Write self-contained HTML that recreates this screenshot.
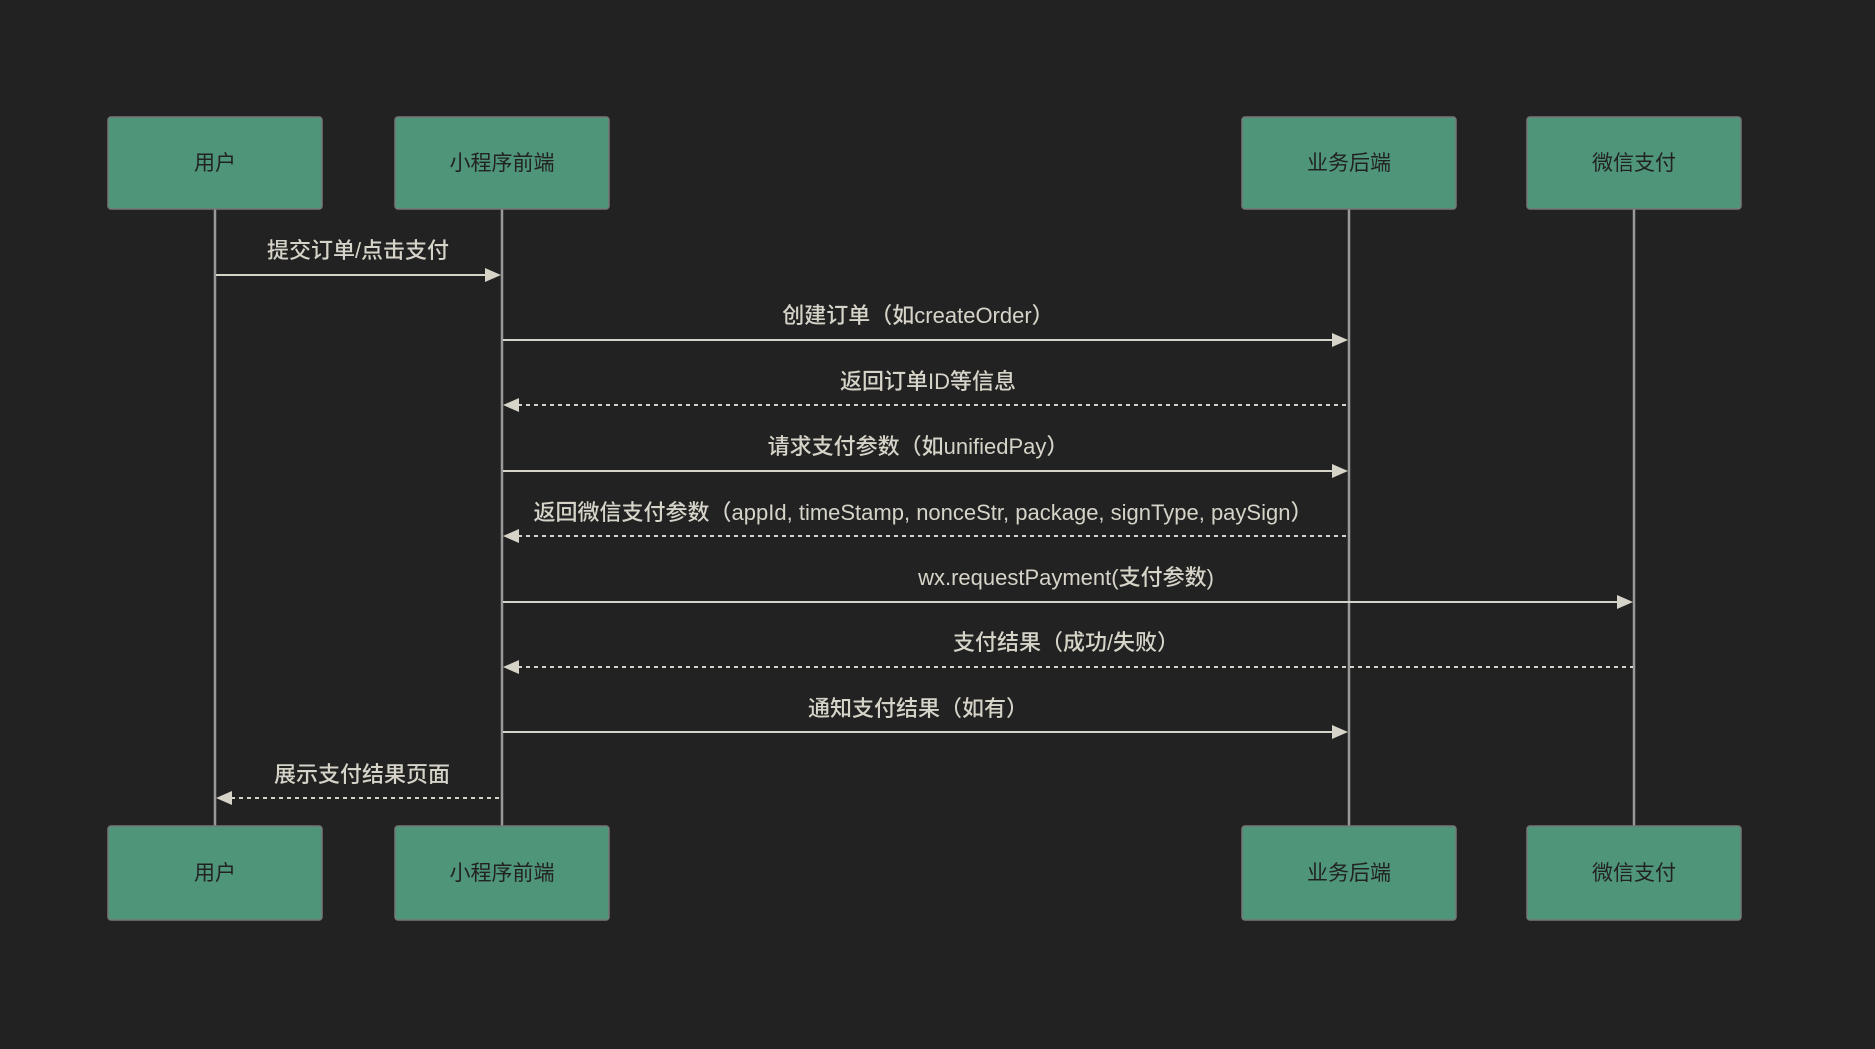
<!DOCTYPE html>
<html><head><meta charset="utf-8"><style>
html,body{margin:0;padding:0;background:#222222;}
svg{display:block;}
text{font-family:"Liberation Sans","Noto Sans CJK SC",sans-serif;}
</style></head><body>
<svg width="1875" height="1049" viewBox="0 0 1875 1049" xmlns="http://www.w3.org/2000/svg">
<rect width="1875" height="1049" fill="#222222"/>
<g stroke="#999" stroke-width="2.5">
<line x1="215" y1="209" x2="215" y2="826"/>
<line x1="502" y1="209" x2="502" y2="826"/>
<line x1="1349" y1="209" x2="1349" y2="826"/>
<line x1="1634" y1="209" x2="1634" y2="826"/>
</g>
<g fill="#4e957a" stroke="#777" stroke-width="1.5">
<rect x="108" y="117" width="214" height="92" rx="3"/>
<rect x="395" y="117" width="214" height="92" rx="3"/>
<rect x="1242" y="117" width="214" height="92" rx="3"/>
<rect x="1527" y="117" width="214" height="92" rx="3"/>
<rect x="108" y="826" width="214" height="94" rx="3"/>
<rect x="395" y="826" width="214" height="94" rx="3"/>
<rect x="1242" y="826" width="214" height="94" rx="3"/>
<rect x="1527" y="826" width="214" height="94" rx="3"/>
</g>
<g fill="#222" font-size="21" text-anchor="middle">
<text x="215" y="170">用户</text>
<text x="502" y="170">小程序前端</text>
<text x="1349" y="170">业务后端</text>
<text x="1634" y="170">微信支付</text>
<text x="215" y="880">用户</text>
<text x="502" y="880">小程序前端</text>
<text x="1349" y="880">业务后端</text>
<text x="1634" y="880">微信支付</text>
</g>
<g stroke="#d6d3c8" stroke-width="2" fill="none">
<line x1="216" y1="275" x2="486" y2="275"/>
<line x1="503" y1="340" x2="1333" y2="340"/>
<line x1="518" y1="405" x2="1348" y2="405" stroke-dasharray="4,4"/>
<line x1="503" y1="471" x2="1333" y2="471"/>
<line x1="518" y1="536" x2="1348" y2="536" stroke-dasharray="4,4"/>
<line x1="503" y1="602" x2="1618" y2="602"/>
<line x1="518" y1="667" x2="1633" y2="667" stroke-dasharray="4,4"/>
<line x1="503" y1="732" x2="1333" y2="732"/>
<line x1="231" y1="798" x2="501" y2="798" stroke-dasharray="4,4"/>
</g>
<g fill="#d6d3c8">
<polygon points="501,275 485,268 485,282"/>
<polygon points="1348,340 1332,333 1332,347"/>
<polygon points="503,405 519,398 519,412"/>
<polygon points="1348,471 1332,464 1332,478"/>
<polygon points="503,536 519,529 519,543"/>
<polygon points="1633,602 1617,595 1617,609"/>
<polygon points="503,667 519,660 519,674"/>
<polygon points="1348,732 1332,725 1332,739"/>
<polygon points="216,798 232,791 232,805"/>
</g>
<g fill="#d6d3c8" font-size="22" font-weight="500" text-anchor="middle">
<text x="358" y="258">提交订单/点击支付</text>
<text x="918" y="323">创建订单（如createOrder）</text>
<text x="928" y="389">返回订单ID等信息</text>
<text x="918" y="454">请求支付参数（如unifiedPay）</text>
<text x="923" y="520">返回微信支付参数（appId, timeStamp, nonceStr, package, signType, paySign）</text>
<text x="1066" y="585">wx.requestPayment(支付参数)</text>
<text x="1066" y="650">支付结果（成功/失败）</text>
<text x="918" y="716">通知支付结果（如有）</text>
<text x="362" y="782">展示支付结果页面</text>
</g>
</svg>
</body></html>
